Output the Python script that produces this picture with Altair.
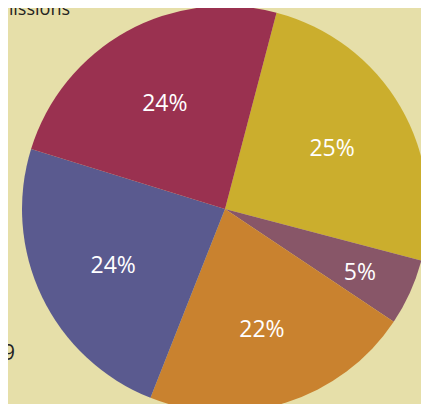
import altair as alt
import pandas as pd
import math

# Data (clockwise from the top-right boundary)
categories = ["Yellow", "Mauve", "Orange", "Blue", "Red"]
shares = [25.0, 5.3, 21.6, 23.8, 24.3]
labels = ["25%", "5%", "22%", "24%", "24%"]
colors = ["#CBAE2D", "#885668", "#C9822F", "#5A5A8F", "#9A3150"]
title_text = ["Emissions"]
legend_fragment = ["1979"]

df = pd.DataFrame({
    "cat": categories,
    "share": shares,
    "label": labels,
    "order": list(range(len(categories))),
})

start = math.radians(14.7)
theta_scale = alt.Scale(range=[start, start + 2 * math.pi])
cx, cy, R = 217, 201, 203

pie = alt.Chart(df).mark_arc(outerRadius=R).encode(
    theta=alt.Theta("share:Q", stack=True, scale=theta_scale),
    order=alt.Order("order:O"),
    x=alt.value(cx),
    y=alt.value(cy),
    color=alt.Color("cat:N", scale=alt.Scale(domain=categories, range=colors), legend=None),
)

text = alt.Chart(df).transform_window(
    cum="sum(share)", sort=[alt.SortField("order")]
).transform_joinaggregate(
    total="sum(share)"
).transform_calculate(
    mid=f"{start} + 2 * PI * (datum.cum - datum.share / 2) / datum.total",
    lr="datum.share < 10 ? 148 : 124",
).mark_text(font="Open Sans", fontSize=23, color="white", dy=3).encode(
    x=alt.value(cx),
    y=alt.value(cy),
    theta=alt.Theta("mid:Q", scale=None),
    radius=alt.Radius("lr:Q", scale=None),
    text="label:N",
)

title = alt.Chart(pd.DataFrame({"t": title_text})).mark_text(
    font="Open Sans", fontSize=18, color="#222222", align="right", baseline="alphabetic"
).encode(x=alt.value(62), y=alt.value(7), text="t:N")

frag = alt.Chart(pd.DataFrame({"t": legend_fragment})).mark_text(
    font="Open Sans", fontSize=21, color="#222222", align="right", baseline="alphabetic"
).encode(x=alt.value(7), y=alt.value(352), text="t:N")

chart = alt.layer(pie, text, title, frag).properties(
    width=413,
    height=396,
    background="#E6DFA9",
    padding=0,
    autosize=alt.AutoSizeParams(type="none"),
).configure_view(stroke=None)

chart.save("out.html", embed_options={"renderer": "svg", "actions": False})
